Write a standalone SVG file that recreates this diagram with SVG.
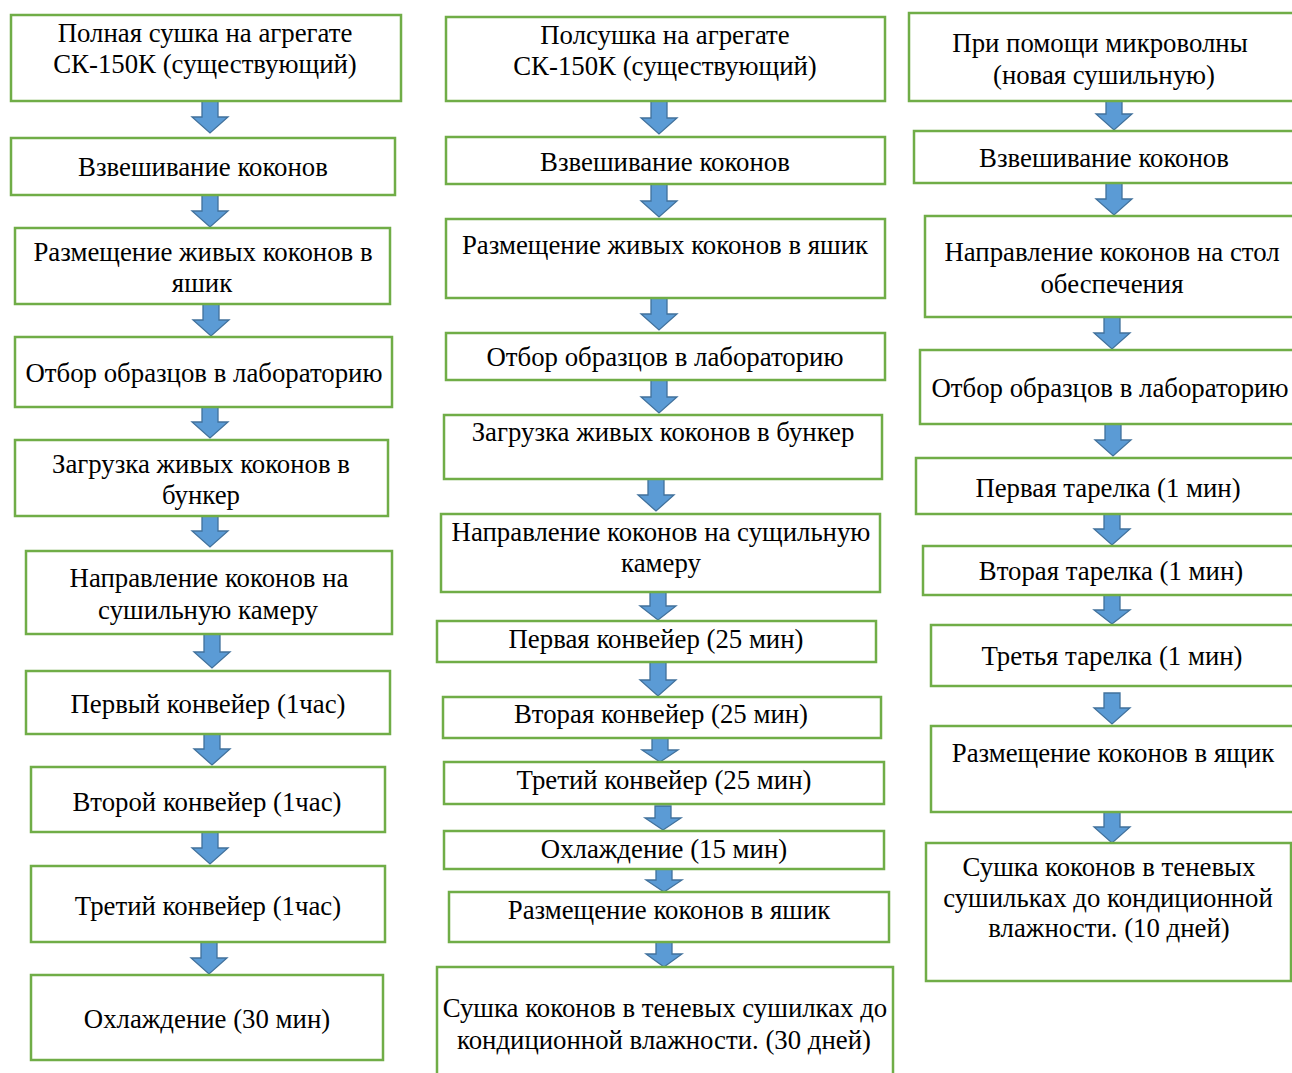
<svg xmlns="http://www.w3.org/2000/svg" width="1292" height="1073" viewBox="0 0 1292 1073">
<style>
.box{fill:#fff;stroke:#70AD47;stroke-width:2.5}
.t{font-family:"Liberation Serif","Times New Roman",serif;font-size:26.8px;fill:#000;text-anchor:middle}
.arr{fill:#5B9BD5;stroke:#41719C;stroke-width:1.3;stroke-linejoin:miter}
</style>
<rect width="1292" height="1073" fill="#fff"/>
<g id="connectors">
<path class="arr" d="M202 101H218V117H228L210 133L192 117H202Z"/>
<path class="arr" d="M202 195H218V211H228L210 227L192 211H202Z"/>
<path class="arr" d="M203 304H219V320H229L211 336L193 320H203Z"/>
<path class="arr" d="M202 407H218V422H228L210 438L192 422H202Z"/>
<path class="arr" d="M202 516H218V531H228L210 547L192 531H202Z"/>
<path class="arr" d="M204 634H220V652H230L212 668L194 652H204Z"/>
<path class="arr" d="M204 734H220V749H230L212 765L194 749H204Z"/>
<path class="arr" d="M202 832H218V848H228L210 864L192 848H202Z"/>
<path class="arr" d="M201 942H217V958H227L209 974L191 958H201Z"/>
<path class="arr" d="M651 101H667V118H677L659 134L641 118H651Z"/>
<path class="arr" d="M651 184H667V201H677L659 217L641 201H651Z"/>
<path class="arr" d="M651 298H667V314H677L659 330L641 314H651Z"/>
<path class="arr" d="M651 380H667V397H677L659 413L641 397H651Z"/>
<path class="arr" d="M648 479H664V495H674L656 511L638 495H648Z"/>
<path class="arr" d="M650 592H666V606H676L658 620L640 606H650Z"/>
<path class="arr" d="M650 662H666V680H676L658 696L640 680H650Z"/>
<path class="arr" d="M652 738H668V750H678L660 762L642 750H652Z"/>
<path class="arr" d="M655 806H671V818H681L663 830L645 818H655Z"/>
<path class="arr" d="M656 869H672V880H682L664 892L646 880H656Z"/>
<path class="arr" d="M656 942H672V954H682L664 967L646 954H656Z"/>
<path class="arr" d="M1106 97H1122V114H1132L1114 130L1096 114H1106Z"/>
<path class="arr" d="M1106 183H1122V199H1132L1114 215L1096 199H1106Z"/>
<path class="arr" d="M1104 317H1120V333H1130L1112 349L1094 333H1104Z"/>
<path class="arr" d="M1105 424H1121V440H1131L1113 456L1095 440H1105Z"/>
<path class="arr" d="M1104 514H1120V529H1130L1112 545L1094 529H1104Z"/>
<path class="arr" d="M1104 595H1120V610H1130L1112 624L1094 610H1104Z"/>
<path class="arr" d="M1104 693H1120V708H1130L1112 724L1094 708H1104Z"/>
<path class="arr" d="M1104 812H1120V827H1130L1112 843L1094 827H1104Z"/>
</g>
<g id="c1n1"><rect class="box" x="11" y="15" width="390" height="86"/><text class="t" x="205" y="42">Полная сушка на агрегате</text><text class="t" x="205" y="73">СК-150К (существующий)</text></g>
<g id="c1n2"><rect class="box" x="11" y="138" width="384" height="57"/><text class="t" x="203" y="176">Взвешивание коконов</text></g>
<g id="c1n3"><rect class="box" x="15" y="228" width="375" height="76"/><text class="t" x="203" y="261">Размещение живых коконов в</text><text class="t" x="202" y="292">яшик</text></g>
<g id="c1n4"><rect class="box" x="15" y="337" width="377" height="70"/><text class="t" x="204" y="382">Отбор образцов в лабораторию</text></g>
<g id="c1n5"><rect class="box" x="15" y="440" width="373" height="76"/><text class="t" x="201" y="473">Загрузка живых коконов в</text><text class="t" x="201" y="504">бункер</text></g>
<g id="c1n6"><rect class="box" x="26" y="551" width="366" height="83"/><text class="t" x="209" y="587">Направление коконов на</text><text class="t" x="208" y="619">сушильную камеру</text></g>
<g id="c1n7"><rect class="box" x="26" y="671" width="364" height="63"/><text class="t" x="208" y="713">Первый конвейер (1час)</text></g>
<g id="c1n8"><rect class="box" x="31" y="767" width="354" height="65"/><text class="t" x="207" y="811">Второй конвейер (1час)</text></g>
<g id="c1n9"><rect class="box" x="31" y="866" width="354" height="76"/><text class="t" x="208" y="915">Третий конвейер (1час)</text></g>
<g id="c1n10"><rect class="box" x="31" y="975" width="352" height="85"/><text class="t" x="207" y="1028">Охлаждение (30 мин)</text></g>
<g id="c2n1"><rect class="box" x="446" y="17" width="439" height="84"/><text class="t" x="665" y="44">Полсушка на агрегате</text><text class="t" x="665" y="75">СК-150К (существующий)</text></g>
<g id="c2n2"><rect class="box" x="446" y="137" width="439" height="47"/><text class="t" x="665" y="171">Взвешивание коконов</text></g>
<g id="c2n3"><rect class="box" x="446" y="219" width="439" height="79"/><text class="t" x="665" y="254">Размещение живых коконов в яшик</text></g>
<g id="c2n4"><rect class="box" x="446" y="333" width="439" height="47"/><text class="t" x="665" y="366">Отбор образцов в лабораторию</text></g>
<g id="c2n5"><rect class="box" x="444" y="415" width="438" height="64"/><text class="t" x="663" y="441">Загрузка живых коконов в бункер</text></g>
<g id="c2n6"><rect class="box" x="441" y="514" width="439" height="78"/><text class="t" x="661" y="541">Направление коконов на сущильную</text><text class="t" x="661" y="572">камеру</text></g>
<g id="c2n7"><rect class="box" x="437" y="621" width="439" height="41"/><text class="t" x="656" y="648">Первая конвейер (25 мин)</text></g>
<g id="c2n8"><rect class="box" x="443" y="697" width="438" height="41"/><text class="t" x="661" y="723">Вторая конвейер (25 мин)</text></g>
<g id="c2n9"><rect class="box" x="444" y="762" width="440" height="42"/><text class="t" x="664" y="789">Третий конвейер (25 мин)</text></g>
<g id="c2n10"><rect class="box" x="444" y="831" width="440" height="38"/><text class="t" x="664" y="858">Охлаждение (15 мин)</text></g>
<g id="c2n11"><rect class="box" x="449" y="892" width="440" height="50"/><text class="t" x="669" y="919">Размещение коконов в яшик</text></g>
<g id="c2n12"><rect class="box" x="437" y="967" width="456" height="112"/><text class="t" x="665" y="1017">Сушка коконов в теневых сушилках до</text><text class="t" x="664" y="1049">кондиционной влажности. (30 дней)</text></g>
<g id="c3n1"><rect class="box" x="909" y="13" width="390" height="88"/><text class="t" x="1100" y="52">При помощи микроволны</text><text class="t" x="1104" y="84">(новая сушильную)</text></g>
<g id="c3n2"><rect class="box" x="914" y="131" width="385" height="52"/><text class="t" x="1104" y="167">Взвешивание коконов</text></g>
<g id="c3n3"><rect class="box" x="925" y="216" width="374" height="101"/><text class="t" x="1112" y="261">Направление коконов на стол</text><text class="t" x="1112" y="293">обеспечения</text></g>
<g id="c3n4"><rect class="box" x="920" y="350" width="379" height="74"/><text class="t" x="1110" y="397">Отбор образцов в лабораторию</text></g>
<g id="c3n5"><rect class="box" x="916" y="458" width="383" height="56"/><text class="t" x="1108" y="497">Первая тарелка (1 мин)</text></g>
<g id="c3n6"><rect class="box" x="923" y="546" width="376" height="49"/><text class="t" x="1111" y="580">Вторая тарелка (1 мин)</text></g>
<g id="c3n7"><rect class="box" x="931" y="625" width="368" height="61"/><text class="t" x="1112" y="665">Третья тарелка (1 мин)</text></g>
<g id="c3n8"><rect class="box" x="931" y="726" width="368" height="86"/><text class="t" x="1113" y="762">Размещение коконов в ящик</text></g>
<g id="c3n9"><rect class="box" x="926" y="843" width="365" height="138"/><text class="t" x="1109" y="876">Сушка коконов в теневых</text><text class="t" x="1108" y="907">сушильках до кондиционной</text><text class="t" x="1109" y="937">влажности. (10 дней)</text></g>
</svg>
